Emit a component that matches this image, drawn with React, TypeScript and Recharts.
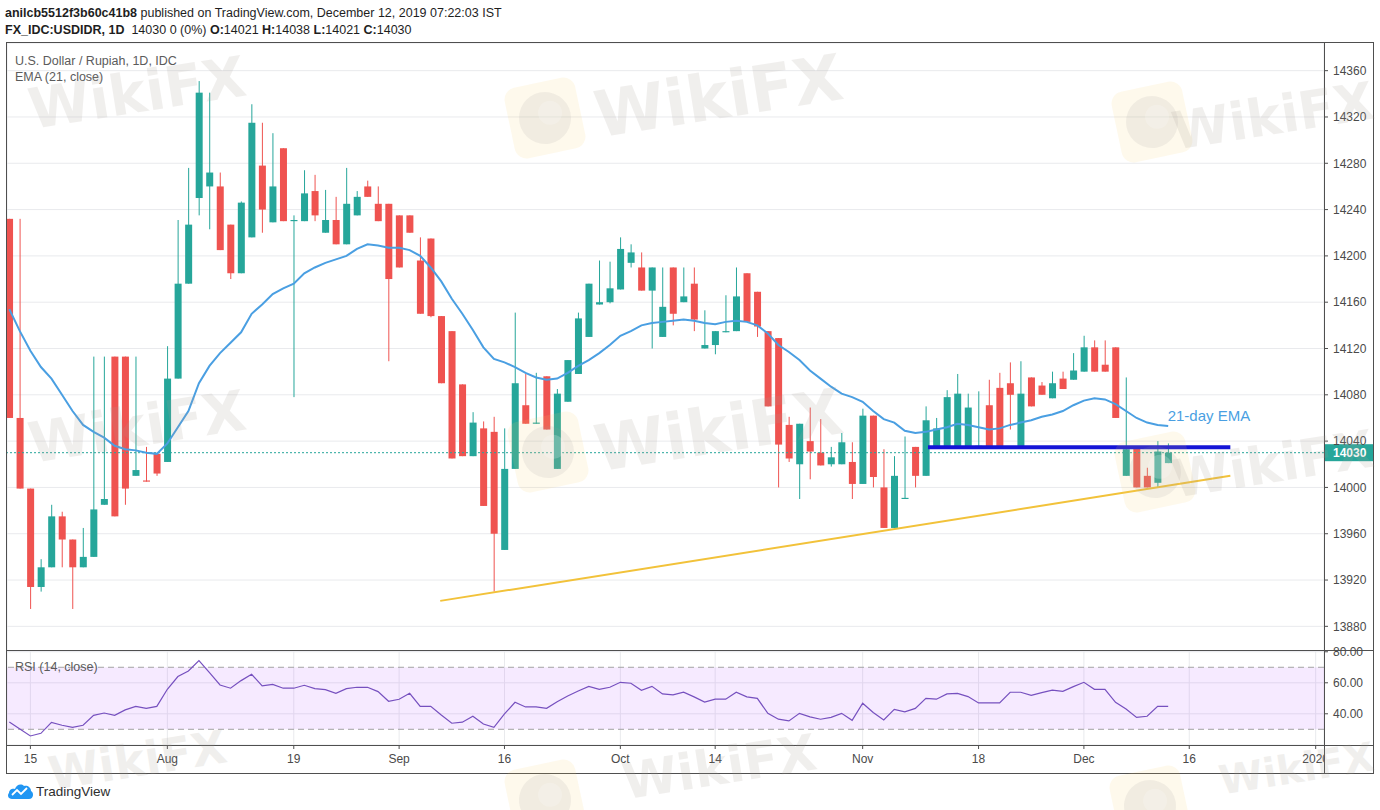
import React from 'react';
import {
  ComposedChart,
  Bar,
  Line,
  XAxis,
  YAxis,
  CartesianGrid,
  ReferenceLine,
  ReferenceArea,
  ReferenceDot,
} from 'recharts';

// ---- data (USD/IDR daily, Jul 11 – Dec 12, 2019) ----
const OPEN = [
  14232, 14060, 13999, 13914, 13931, 13975, 13955, 13931, 13940, 13985,
  14113, 14113, 14010, 14006, 14029, 14022, 14094, 14176, 14250, 14260,
  14260, 14227, 14185, 14216, 14278, 14229, 14293, 14230, 14230, 14256,
  14220, 14231, 14210, 14235, 14260, 14245, 14245, 14235, 14235, 14196,
  14215, 14148, 14135, 14089, 14027, 14051, 14048, 13946, 14016, 14071,
  14055, 14096, 14016, 14074, 14098, 14130, 14158, 14160, 14171, 14194,
  14190, 14170, 14130, 14190, 14160, 14176, 14120, 14123, 14134, 14135,
  14185, 14169, 14135, 14129, 14054, 14020, 14040, 14030, 14020, 14020,
  14022, 14003, 14062, 14000, 13965, 13990, 14035, 14010, 14035, 14035,
  14035, 14035, 14035, 14071, 14086, 14090, 14035, 14095, 14088, 14077,
  14094, 14093, 14100, 14121, 14106, 14121, 14010, 14034, 14010, 14004,
  14021,
];
const HIGH = [
  14232, 14232, 13999, 13938, 13985, 13979, 13955, 13965, 14113, 14113,
  14113, 14113, 14113, 14035, 14030, 14122, 14231, 14276, 14351, 14341,
  14272, 14227, 14247, 14331, 14315, 14306, 14293, 14235, 14274, 14270,
  14257, 14251, 14276, 14256, 14265, 14260, 14245, 14235, 14235, 14216,
  14215, 14148, 14135, 14089, 14065, 14057, 14061, 14051, 14151, 14098,
  14099, 14096, 14085, 14110, 14151, 14176, 14196, 14195, 14216, 14210,
  14203, 14190, 14190, 14190, 14190, 14190, 14153, 14135, 14166, 14190,
  14185, 14169, 14135, 14129, 14061, 14055, 14069, 14059, 14035, 14047,
  14039, 14068, 14062, 14033, 14027, 14044, 14035, 14070, 14060, 14084,
  14098, 14081, 14083, 14093, 14099, 14108, 14109, 14095, 14091, 14100,
  14100, 14116, 14131, 14127, 14127, 14121, 14095, 14035, 14017, 14040,
  14038,
];
const LOW = [
  14060, 13999, 13895, 13910, 13931, 13931, 13895, 13931, 13940, 13985,
  13975, 13985, 14010, 14005, 14010, 14022, 14094, 14176, 14235, 14223,
  14205, 14180, 14185, 14216, 14220, 14229, 14230, 14078, 14230, 14230,
  14220, 14210, 14210, 14235, 14251, 14230, 14109, 14190, 14220, 14150,
  14147, 14090, 14025, 14027, 14027, 13984, 13910, 13946, 14016, 14055,
  14055, 14050, 14016, 14074, 14098, 14130, 14158, 14159, 14171, 14190,
  14170, 14120, 14130, 14140, 14160, 14135, 14120, 14115, 14134, 14135,
  14143, 14130, 14070, 14000, 14022, 13990, 14007, 14019, 14018, 14020,
  13990, 14003, 14000, 13965, 13965, 13990, 14000, 14010, 14035, 14035,
  14035, 14035, 14035, 14035, 14035, 14050, 14035, 14070, 14080, 14077,
  14085, 14093, 14100, 14100, 14100, 14060, 14010, 14000, 14000, 14000,
  14021,
];
const CLOSE = [
  14060, 13999, 13914, 13931, 13975, 13955, 13931, 13940, 13981, 13990,
  13975, 13999, 14015, 14005, 14012, 14094, 14176, 14227, 14341, 14272,
  14205, 14185, 14246, 14315, 14240, 14260, 14230, 14231, 14254, 14235,
  14231, 14210, 14245, 14251, 14251, 14230, 14180, 14190, 14220, 14150,
  14148, 14090, 14025, 14027, 14056, 13984, 13960, 14016, 14090, 14055,
  14056, 14050, 14081, 14110, 14146, 14176, 14160, 14172, 14206, 14203,
  14170, 14190, 14156, 14150, 14165, 14145, 14123, 14135, 14135, 14165,
  14143, 14139, 14070, 14037, 14025, 14055, 14031, 14019, 14026, 14039,
  14003, 14062, 14009, 13965, 14010, 13991, 14010, 14058, 14051, 14078,
  14081, 14069, 14036, 14035, 14035, 14080, 14081, 14070, 14080, 14090,
  14085, 14101, 14121, 14100, 14100, 14060, 14033, 14000, 14000, 14031,
  14030,
];
const EMA21 = [
  14154, 14135, 14118, 14104, 14094, 14080, 14066, 14054, 14048, 14043,
  14036, 14033, 14032, 14030, 14029, 14038, 14052, 14066, 14090, 14105,
  14116, 14125, 14134, 14150, 14158, 14167, 14172, 14176, 14185, 14190,
  14194, 14197, 14200, 14206, 14210, 14209, 14207, 14207, 14205, 14200,
  14190, 14178, 14163, 14150, 14136, 14121, 14111, 14108, 14104, 14099,
  14095, 14093, 14094, 14099, 14105, 14110, 14116, 14123, 14131, 14135,
  14140, 14142, 14143, 14144, 14145, 14144, 14142, 14141, 14143, 14144,
  14143, 14140, 14133, 14123, 14117, 14110, 14101, 14094, 14087, 14081,
  14078, 14074, 14066, 14059, 14056, 14049, 14047, 14048, 14050, 14052,
  14055, 14054, 14052, 14050, 14051, 14054, 14056, 14058, 14061, 14063,
  14066, 14071, 14075, 14077, 14076, 14072, 14066, 14060, 14056, 14054,
  14053,
];
const RSI14 = [
  34.7, 30.2, 25.7, 27.4, 34.5, 32.6, 31.3, 32.6, 39.0, 40.5,
  39.0, 42.5, 44.8, 43.5, 44.8, 55.8, 64.0, 67.6, 74.3, 66.6,
  58.6, 56.5, 61.4, 65.5, 58.0, 59.0, 56.5, 56.5, 58.4, 56.2,
  55.6, 53.2, 56.2, 57.1, 57.1, 54.3, 48.1, 49.4, 53.2, 44.8,
  44.8, 39.2, 33.9, 34.6, 38.4, 33.4, 31.3, 39.9, 47.4, 44.4,
  44.4, 43.5, 47.8, 51.5, 54.7, 57.7, 55.8, 57.1, 60.3, 59.7,
  55.2, 57.7, 52.8, 52.2, 53.9, 50.9, 47.6, 49.4, 49.4, 53.9,
  50.9, 50.0, 40.3, 36.5, 35.4, 40.3, 38.0, 36.5, 37.7, 40.3,
  35.8, 46.8, 40.8, 36.0, 42.9, 41.2, 43.5, 50.0, 49.4, 52.8,
  53.2, 51.1, 47.0, 47.0, 47.0, 53.9, 53.9, 51.9, 53.7, 55.2,
  54.5, 57.5, 60.3, 55.8, 55.8, 47.4, 43.1, 37.7, 38.4, 44.8,
  44.8,
];

const TICK_INDEX = [3, 16, 28, 38, 48, 59, 68, 82, 93, 103, 113, 125];
const TICK_LABELS = ['15', 'Aug', '19', 'Sep', '16', 'Oct', '14', 'Nov', '18', 'Dec', '16', '2020'];
const PRICE_TICKS = [13880, 13920, 13960, 14000, 14040, 14080, 14120, 14160, 14200, 14240, 14280, 14320, 14360];
const RSI_TICKS = [40, 60, 80];
const SUPPORT_LINE = [
  { i: 41.9, p: 13902 },
  { i: 116.9, p: 14010 },
];
const RESISTANCE_LINE = [
  { i: 88.2, p: 14034.6 },
  { i: 116.9, p: 14034.6 },
];
const EMA_LABEL = { i: 110.95, p: 14062, text: '21-day EMA' };
const LAST_PRICE = 14030;
const X_DOMAIN: [number, number] = [0.78, 125.79];
const PRICE_DOMAIN: [number, number] = [13858.7, 14383.9];
const RSI_DOMAIN: [number, number] = [19.87, 80.5];

const GREEN = '#26a69a';
const RED = '#ef5350';
const GRID = '#e9eaed';
const BORDER = '#4f4f4f';
const AXIS_TEXT = '#4a4a4a';
const FONT = '"Liberation Sans", Arial, sans-serif';

const rows = OPEN.map((o, k) => ({
  i: k + 1,
  open: o,
  high: HIGH[k],
  low: LOW[k],
  close: CLOSE[k],
  ema: EMA21[k],
  rsi: RSI14[k],
}));

const tickLabel = (v: number) => {
  const k = TICK_INDEX.indexOf(v);
  return k >= 0 ? TICK_LABELS[k] : '';
};

const Candle = (props: any) => {
  const { x, y, width, height, payload } = props;
  if (!payload || x == null) return null;
  const { open, close, high, low } = payload;
  const top = Math.min(y, y + height);
  const h = Math.abs(height);
  const pix = (v: number) => (high === low ? top : top + ((high - v) / (high - low)) * h);
  const cx = x + width / 2;
  const color = close >= open ? GREEN : RED;
  const bTop = pix(Math.max(open, close));
  const bBot = pix(Math.min(open, close));
  return (
    <g>
      <line x1={cx} x2={cx} y1={top} y2={top + h} stroke={color} strokeWidth={1} />
      <rect x={cx - width / 2} width={width} y={bTop} height={Math.max(1, bBot - bTop)} fill={color} />
    </g>
  );
};

const LastPriceLabel = (props: any) => {
  const vb = props.viewBox || {};
  const x = vb.x + vb.width;
  const y = vb.y;
  return (
    <g>
      <rect x={x} y={y - 8.5} width={49} height={17} fill="#26a69a" />
      <text x={x + 9} y={y + 4.5} fill="#ffffff" fontSize={12} fontFamily={FONT} fontWeight={600}>
        {LAST_PRICE}
      </text>
    </g>
  );
};

const Watermarks = () => {
  // [x, y, fontSize, anchor]
  const texts: [number, number, number, 'middle' | 'end'][] = [
    [140, 112, 56, 'middle'], [722, 118, 64, 'middle'], [1376, 118, 52, 'end'],
    [140, 446, 56, 'middle'], [722, 452, 64, 'middle'], [1376, 466, 52, 'end'],
    [140, 776, 46, 'middle'], [722, 784, 50, 'middle'], [1376, 770, 40, 'end'],
  ];
  const logos = [
    [545, 118], [1152, 122],
    [548, 452], [1155, 472],
    [545, 800], [1150, 806],
  ];
  return (
    <svg width={1380} height={810} style={{ position: 'absolute', left: 0, top: 0, pointerEvents: 'none' }}>
      {logos.map(([x, y], k) => (
        <g key={'l' + k} transform={`rotate(-12 ${x} ${y})`}>
          <rect x={x - 36} y={y - 36} width={72} height={72} rx={12} fill="#f6cf6a" opacity={0.13} />
          <circle cx={x} cy={y} r={26} fill="#9a9a9a" opacity={0.13} />
          <circle cx={x + 6} cy={y - 4} r={12} fill="#ffffff" opacity={0.2} />
        </g>
      ))}
      {texts.map(([x, y, fs, anchor], k) => (
        <text
          key={'t' + k}
          x={x}
          y={y}
          textAnchor={anchor}
          fontSize={fs}
          fontWeight="bold"
          fontFamily='"DejaVu Sans", sans-serif'
          fill="#a89f96"
          opacity={0.16}
          transform={`rotate(-9 ${x} ${y})`}
        >
          WikiFX
        </text>
      ))}
    </svg>
  );
};

const TVLogo = () => (
  <div style={{ position: 'absolute', left: 7, top: 782, display: 'flex', alignItems: 'center' }}>
    <svg width={27} height={18} viewBox="0 0 27 18">
      <path d="M5 17 C1 17 0 13 2 11 C2 7 6 6 8 7 C9 3 14 1 17 4 C20 3 24 5 24 9 C27 10 27 17 22 17 Z" fill="#2196f3" />
      <path d="M5 13 L10 8 L14 12 L20 6" stroke="#ffffff" strokeWidth={1.8} fill="none" />
    </svg>
    <span style={{ fontSize: 13.5, color: '#2e2e2e', marginLeft: 2, fontFamily: FONT }}>TradingView</span>
  </div>
);

const hline = (top: number, left = 6, width = 1368) => (
  <div style={{ position: 'absolute', left, top, width, height: 1, background: BORDER }} />
);

export default function App() {
  return (
    <div
      style={{
        position: 'absolute',
        left: 0,
        top: 0,
        width: 1380,
        height: 810,
        background: '#ffffff',
        overflow: 'hidden',
        fontFamily: FONT,
      }}
    >
      {/* header */}
      <div style={{ position: 'absolute', left: 5, top: 5, fontSize: 12.5, lineHeight: '16px', color: '#1e1e1e', whiteSpace: 'nowrap' }}>
        <b>anilcb5512f3b60c41b8</b> published on TradingView.com, December 12, 2019 07:22:03 IST
      </div>
      <div style={{ position: 'absolute', left: 5, top: 22, fontSize: 12.5, lineHeight: '16px', color: '#1e1e1e', whiteSpace: 'nowrap' }}>
        <b>FX_IDC:USDIDR, 1D</b>&nbsp; 14030 0 (0%) <b>O:</b>14021 <b>H:</b>14038 <b>L:</b>14021 <b>C:</b>14030
      </div>

      {/* RSI pane (svg starts a little above the pane so the top tick label is not clipped) */}
      <div style={{ position: 'absolute', left: 0, top: 641 }}>
        <ComposedChart width={1380} height={132} data={rows} margin={{ top: 10, right: 7, bottom: 0, left: 7 }}>
          <CartesianGrid stroke={GRID} strokeWidth={1} />
          <XAxis
            type="number"
            dataKey="i"
            domain={X_DOMAIN}
            allowDataOverflow
            ticks={TICK_INDEX}
            tickFormatter={tickLabel}
            interval={0}
            height={28}
            tickSize={4}
            tickMargin={5}
            axisLine={false}
            tickLine={{ stroke: BORDER }}
            tick={{ fill: AXIS_TEXT, fontSize: 12, fontFamily: FONT }}
          />
          <YAxis
            orientation="right"
            type="number"
            domain={RSI_DOMAIN}
            allowDataOverflow
            ticks={RSI_TICKS}
            tickFormatter={(v: number) => v.toFixed(2)}
            width={49}
            tickSize={4}
            tickMargin={5}
            axisLine={false}
            tickLine={{ stroke: BORDER }}
            tick={{ fill: AXIS_TEXT, fontSize: 12, fontFamily: FONT, textAnchor: 'start' }}
            interval={0}
          />
          <ReferenceArea y1={30} y2={70} fill="#9915ff" fillOpacity={0.09} stroke="none" />
          <ReferenceLine y={70} stroke="#a3a3a3" strokeDasharray="6 4" />
          <ReferenceLine y={30} stroke="#a3a3a3" strokeDasharray="6 4" />
          <Line
            type="linear"
            dataKey="rsi"
            stroke="#7650bf"
            strokeWidth={1.2}
            dot={false}
            activeDot={false}
            isAnimationActive={false}
          />
        </ComposedChart>
      </div>

      {/* price pane */}
      <div style={{ position: 'absolute', left: 0, top: 0 }}>
        <ComposedChart width={1380} height={651} data={rows} margin={{ top: 43, right: 7, bottom: 0, left: 7 }}>
          <CartesianGrid stroke={GRID} strokeWidth={1} />
          <XAxis
            type="number"
            dataKey="i"
            domain={X_DOMAIN}
            allowDataOverflow
            ticks={TICK_INDEX}
            tick={false}
            tickLine={false}
            axisLine={false}
            height={0}
          />
          <YAxis
            orientation="right"
            type="number"
            domain={PRICE_DOMAIN}
            allowDataOverflow
            ticks={PRICE_TICKS}
            width={49}
            tickSize={4}
            tickMargin={5}
            axisLine={false}
            tickLine={{ stroke: BORDER }}
            tick={{ fill: AXIS_TEXT, fontSize: 12, fontFamily: FONT, textAnchor: 'start' }}
            interval={0}
          />
          <ReferenceLine y={LAST_PRICE} stroke="#26a69a" strokeDasharray="2 2" strokeWidth={1} label={<LastPriceLabel />} />
          <Bar
            dataKey={(d: any) => [d.low, d.high]}
            barSize={7}
            shape={<Candle />}
            isAnimationActive={false}
          />
          <Line
            type="linear"
            dataKey="ema"
            stroke="#4a9fe2"
            strokeWidth={2}
            dot={false}
            activeDot={false}
            isAnimationActive={false}
          />
          <ReferenceLine
            segment={[
              { x: SUPPORT_LINE[0].i, y: SUPPORT_LINE[0].p },
              { x: SUPPORT_LINE[1].i, y: SUPPORT_LINE[1].p },
            ]}
            stroke="#f2c23a"
            strokeWidth={2}
          />
          <ReferenceLine
            segment={[
              { x: RESISTANCE_LINE[0].i, y: RESISTANCE_LINE[0].p },
              { x: RESISTANCE_LINE[1].i, y: RESISTANCE_LINE[1].p },
            ]}
            stroke="#1414d6"
            strokeWidth={4}
          />
          <ReferenceDot
            x={EMA_LABEL.i}
            y={EMA_LABEL.p}
            r={0}
            fill="none"
            stroke="none"
            label={{ value: EMA_LABEL.text, position: 'right', offset: 0, fill: '#4a9fe2', fontSize: 15, fontFamily: FONT }}
          />
        </ComposedChart>
      </div>

      {/* pane legends */}
      <div style={{ position: 'absolute', left: 15, top: 54, fontSize: 12.5, color: '#5b5b5b', whiteSpace: 'nowrap' }}>
        U.S. Dollar / Rupiah, 1D, IDC
      </div>
      <div style={{ position: 'absolute', left: 15, top: 70, fontSize: 12.5, color: '#5b5b5b', whiteSpace: 'nowrap' }}>
        EMA (21, close)
      </div>
      <div style={{ position: 'absolute', left: 15, top: 660, fontSize: 12.5, color: '#5b5b5b', whiteSpace: 'nowrap' }}>
        RSI (14, close)
      </div>

      {/* frame */}
      <div style={{ position: 'absolute', left: 1325, top: 746, width: 48, height: 27, background: '#ffffff' }} />
      {hline(42)}
      {hline(650)}
      {hline(745)}
      {hline(773)}
      <div style={{ position: 'absolute', left: 6, top: 42, width: 1, height: 732, background: BORDER }} />
      <div style={{ position: 'absolute', left: 1373, top: 42, width: 1, height: 732, background: BORDER }} />
      <div style={{ position: 'absolute', left: 1324, top: 42, width: 1, height: 732, background: BORDER }} />

      <TVLogo />
      <Watermarks />
    </div>
  );
}
